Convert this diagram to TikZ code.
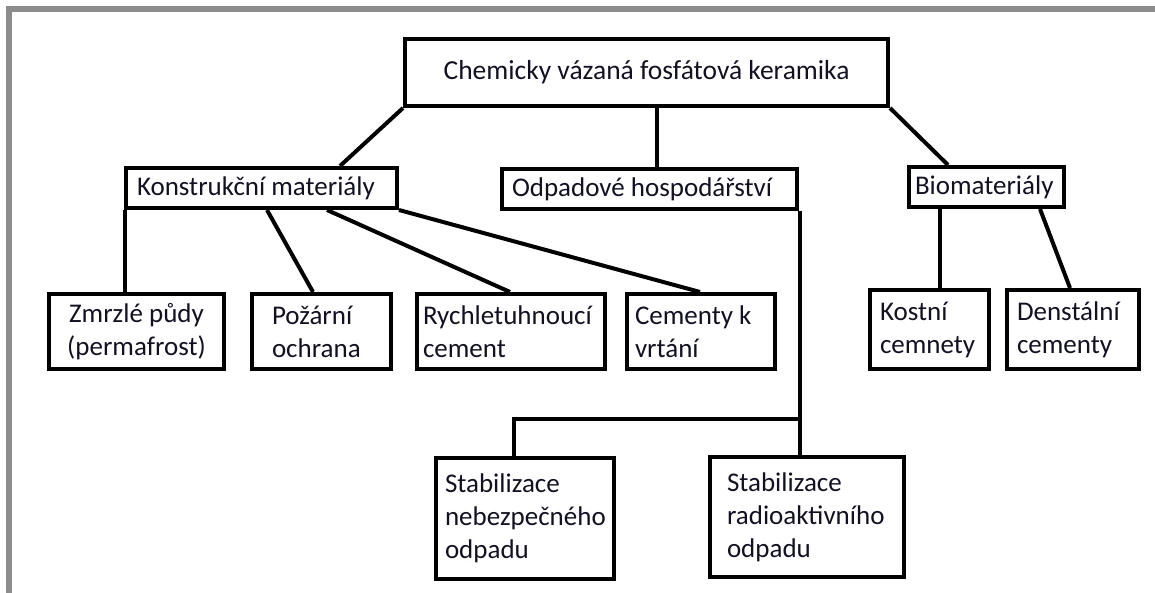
\documentclass[tikz,border=0pt]{standalone}
\usepackage{fontspec}
\setmainfont{Carlito}
\definecolor{framegray}{HTML}{8C8C8C}
\definecolor{txt}{HTML}{111122}
\tikzset{
  box/.style={draw=black, line width=4pt, anchor=north west, text=txt,
    font=\fontsize{27}{33}\selectfont, inner ysep=0pt},
  conn/.style={draw=black, line width=4pt}
}
\begin{document}
\begin{tikzpicture}[x=1pt,y=-1pt]
\useasboundingbox (0,0) rectangle (1155,593);
% frame
\draw[framegray, line width=6pt] (9,593) -- (9,9) -- (1155,9);
% level 0
\node[box, minimum width=483pt, minimum height=67pt, font=\fontsize{27.5}{33}\selectfont] (top) at (403,37) {Chemicky vázaná fosfátová keramika};
% level 1
\node[box, minimum height=40pt, text width=249pt, inner xsep=11pt, align=flush left] (konst) at (124,166) {Konstrukční materiály};
\node[box, minimum height=40pt, text width=275pt, inner xsep=10pt, align=flush left] (odpad) at (500,167) {Odpadové hospodářství};
\node[box, minimum height=40pt, text width=143pt, inner xsep=6pt, align=flush left] (bio) at (907,165) {Biomateriály};
% level 2
\node[box, minimum height=75pt, text width=165pt, inner xsep=5pt, align=flush center] (zmrzle) at (47,292) {Zmrzlé půdy\\(permafrost)};
\node[box, minimum height=75pt, text width=99pt, inner xsep=20pt, align=flush left] (pozarni) at (250,292) {Požární\\ochrana};
\node[box, minimum height=75pt, text width=176pt, inner xsep=6pt, align=flush left] (rychle) at (415,292) {Rychletuhnoucí\\cement};
\node[box, minimum height=75pt, text width=132pt, inner xsep=8pt, align=flush left] (cementy) at (625,292) {Cementy k\\vrtání};
\node[box, minimum height=79pt, text width=99pt, inner xsep=10pt, align=flush left] (kostni) at (868,288) {Kostní\\cemnety};
\node[box, minimum height=79pt, text width=112pt, inner xsep=10pt, align=flush left] (denst) at (1005,288) {Denstální\\cementy};
% level 3
\node[box, minimum height=121pt, text width=160pt, inner xsep=9pt, align=flush left] (haz) at (434,456) {Stabilizace\\nebezpečného\\odpadu};
\node[box, minimum height=120pt, text width=160pt, inner xsep=17pt, align=flush left] (rad) at (708,455) {Stabilizace\\radioaktivního\\odpadu};
% connectors
\draw[conn] (top.south west) -- ([xshift=216pt]konst.north west);
\draw[conn] ([xshift=157pt]odpad.north west |- top.south) -- ([xshift=157pt]odpad.north west);
\draw[conn] (top.south east) -- ([xshift=41pt]bio.north west);
\draw[conn] ([xshift=1pt]konst.south west) -- ([xshift=1pt]konst.south west |- zmrzle.north);
\draw[conn] ([xshift=143pt]konst.south west) -- ([xshift=63pt]pozarni.north west);
\draw[conn] ([xshift=203pt]konst.south west) -- ([xshift=95pt]rychle.north west);
\draw[conn] (konst.south east) -- ([xshift=75pt]cementy.north west);
\draw[conn] ([xshift=1pt]odpad.south east) -- ++(0,208) coordinate (j);
\draw[conn] (j) -- ([xshift=80pt]haz.north west |- j) -- ([xshift=80pt]haz.north west);
\draw[conn] (j) -- (j |- rad.north);
\draw[conn] ([xshift=33pt]bio.south west) -- ([xshift=33pt]bio.south west |- kostni.north);
\draw[conn] ([xshift=133pt]bio.south west) -- ([xshift=65pt]denst.north west);
\end{tikzpicture}
\end{document}
